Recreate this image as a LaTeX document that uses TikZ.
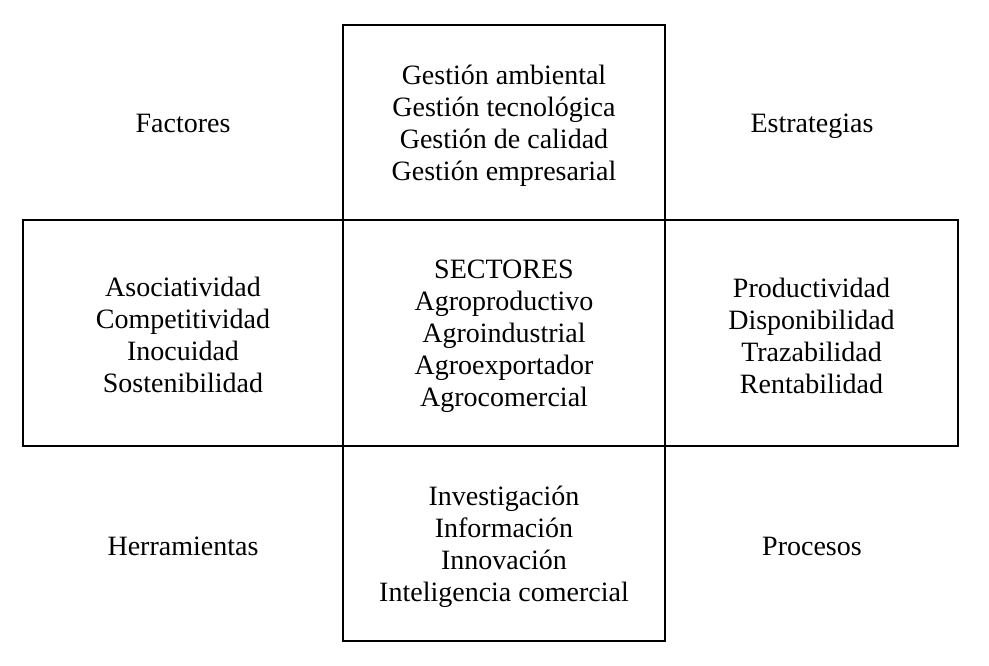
\documentclass[tikz,border=0pt]{standalone}
\usepackage{fontspec}
\setmainfont{Liberation Serif}
\begin{document}
\begin{tikzpicture}[x=1pt,y=-1pt,
  txt/.style={font=\fontsize{28}{32}\selectfont, align=center},
  lab/.style={txt, anchor=base},
  box/.style={draw, line width=1.2pt, inner sep=0pt}]
\useasboundingbox (0,0) rectangle (989,666);
\node[box, minimum width=322pt, minimum height=195pt] (top) at (504,122.5) {};
\node[box, minimum width=320pt, minimum height=226pt] (left) at (183,333) {};
\node[box, minimum width=322pt, minimum height=226pt] (center) at (504,333) {};
\node[box, minimum width=293pt, minimum height=226pt] (right) at (811.5,333) {};
\node[box, minimum width=322pt, minimum height=195pt] (bottom) at (504,543.5) {};
\node[txt, yshift=-3pt] (toptext) at (top.center)
  {Gestión ambiental\\Gestión tecnológica\\Gestión de calidad\\Gestión empresarial};
\node[txt, yshift=-2pt] (lefttext) at (left.center)
  {Asociatividad\\Competitividad\\Inocuidad\\Sostenibilidad};
\node[txt, yshift=-3.5pt] (centertext) at (center.center)
  {SECTORES\\Agroproductivo\\Agroindustrial\\Agroexportador\\Agrocomercial};
\node[txt, yshift=-2.5pt] (righttext) at (right.center)
  {Productividad\\Disponibilidad\\Trazabilidad\\Rentabilidad};
\node[txt, yshift=-3.5pt] (bottomtext) at (bottom.center)
  {Investigación\\Información\\Innovación\\Inteligencia comercial};
\node[lab] (factores) at (183,133) {Factores};
\node[lab] (estrategias) at (812,133) {Estrategias};
\node[lab] (herramientas) at (183,555) {Herramientas};
\node[lab] (procesos) at (812,555) {Procesos};
\end{tikzpicture}
\end{document}
